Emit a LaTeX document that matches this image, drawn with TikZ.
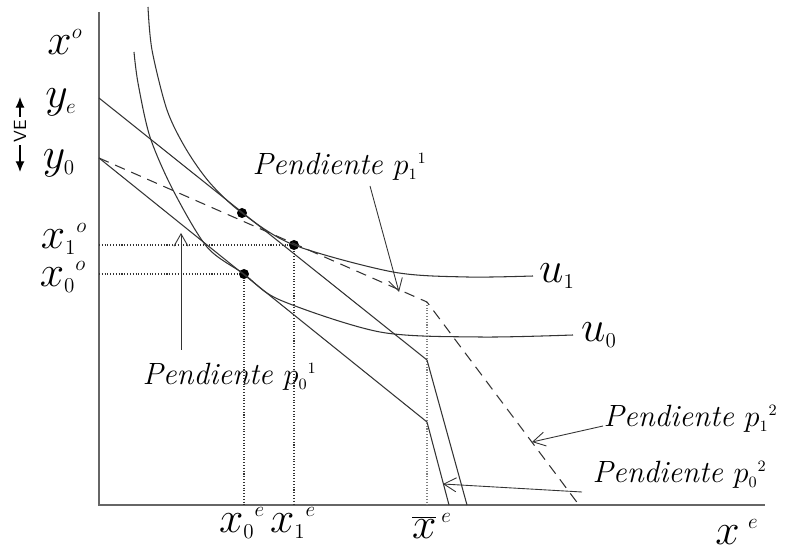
\documentclass[tikz,border=0pt]{standalone}
\usepackage{tikz}
\usetikzlibrary{arrows.meta}

\newcommand{\lsub}[1]{_{\scriptscriptstyle #1}}
\newcommand{\lsup}[1]{{}^{\scriptscriptstyle #1}}

\begin{document}
\begin{tikzpicture}[x=0.02cm, y=-0.02cm, line width=0.6pt, draw=black!80,
        every node/.style={inner sep=0pt},
        axlbl/.style={font=\fontsize{23}{25}\selectfont},
        slope/.style={font=\fontsize{17.5}{20}\selectfont\itshape, anchor=base west},
        dot/.style={circle, fill=black, minimum size=0.2cm},
        guide/.style={densely dotted, line width=0.6pt},
        pointer/.style={-{Straight Barb[length=7pt,width=8pt]}, line width=0.5pt}]
        \useasboundingbox (0,0) rectangle (788,553);

        \coordinate (org) at (99,505);
        \coordinate (top) at (99,12);
        \coordinate (right) at (765,505);
        \coordinate (ye0) at (99,98);
        \coordinate (yo0) at (99,158);
        \coordinate (kE) at (427,360);
        \coordinate (kO) at (427,422);
        \coordinate (kD) at (427,302);
        \coordinate (eE) at (467,505);
        \coordinate (eO) at (449,505);
        \coordinate (eD) at (579,505);
        \coordinate (bar) at (427,505);

        \node[axlbl] (xo) at (65,42) {$x^{\scriptscriptstyle o}$};
        \node[axlbl] (ye) at (61,102) {$y\lsub{e}$};
        \node[axlbl] (yo) at (59,163) {$y\lsub{0}$};
        \node[axlbl] (x1o) at (64,239) {$x\lsub{1}\lsup{o}$};
        \node[axlbl] (x0o) at (63,277) {$x\lsub{0}\lsup{o}$};
        \node[axlbl] (x0e) at (242,523) {$x\lsub{0}\lsup{e}$};
        \node[axlbl] (x1e) at (293,523) {$x\lsub{1}\lsup{e}$};
        \node[axlbl] (xbar) at (432,526) {$\overline{x}^{\,\scriptscriptstyle e}$};
        \node[axlbl] (xe) at (737,532) {$x^{\;\scriptscriptstyle e}$};
        \node[axlbl] (u1) at (557,276) {$u\lsub{1}$};
        \node[axlbl] (u0) at (599,335) {$u\lsub{0}$};
        \node[rotate=90, font=\sffamily, inner sep=1.5pt] (ve) at (20,131) {VE};

        \node[dot] (A) at (242,213) {};
        \node[dot] (B) at (294,245) {};
        \node[dot] (C) at (244,274) {};

        \node[slope] (s11) at (252,175) {Pendiente $p\lsub{1}\lsup{1}$};
        \node[slope] (s01) at (142,385) {Pendiente $p\lsub{0}\lsup{1}$};
        \node[slope] (s12) at (603,427) {Pendiente $p\lsub{1}\lsup{2}$};
        \node[slope] (s02) at (592,483) {Pendiente $p\lsub{0}\lsup{2}$};

        \draw[line width=0.9pt, gray!80!black] (top) -- (org) -- (right);

        \draw[guide] (org |- B) -- (B) -- (B |- org);
        \draw[guide] (org |- C) -- (C) -- (C |- org);
        \draw[guide, gray] (kD) -- (bar);

        \draw (ye0) -- (kE) -- (eE);
        \draw (yo0) -- (kO) -- (eO);
        \draw[dashed, dash pattern=on 6pt off 4pt] (yo0) -- (kD) -- (eD);

        \draw plot[smooth] coordinates {(148,7) (152,50) (167,110) (186,149) (210,183) (242,213) (294,245) (393,272) (467,277) (533,276)};
        \draw plot[smooth] coordinates {(134,52) (138,83) (150,137) (173,190) (207,247) (244,274) (280,300) (380,332) (480,337) (573,335)};

        \coordinate (t11) at (370,186);
        \coordinate (h11) at (399,292);
        \coordinate (t01) at (181,350);
        \coordinate (h01) at (181,233);
        \coordinate (t12) at (603,426);
        \coordinate (h12) at (532,442);
        \coordinate (t02) at (582,492);
        \coordinate (h02) at (443,484);
        \draw[pointer] (t11) -- (h11);
        \draw[pointer] (t01) -- (h01);
        \draw[pointer] (t12) -- (h12);
        \draw[pointer] (t02) -- (h02);

        \coordinate (veU) at (20,97);
        \coordinate (veD) at (20,172);
        \draw[-{Latex[length=6pt,width=5pt]}, black] (ve.east) -- (veU);
        \draw[-{Latex[length=6pt,width=5pt]}, black] (ve.west) -- (veD);
\end{tikzpicture}
\end{document}
